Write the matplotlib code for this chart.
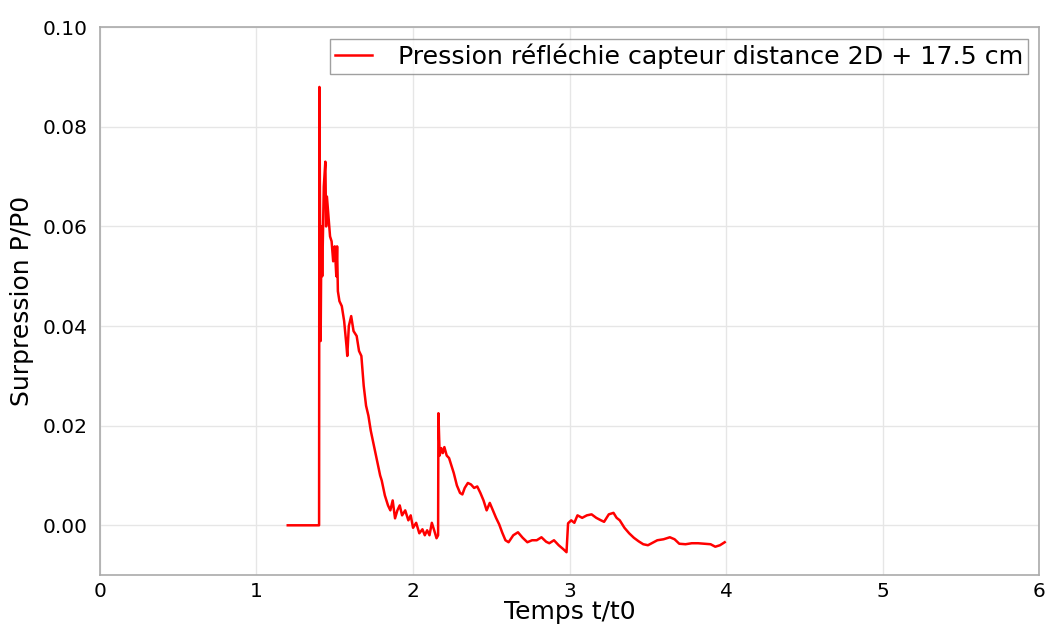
import matplotlib
matplotlib.use("Agg")
import matplotlib.pyplot as plt

# temps adimensionne t/t0
temps = [1.20, 1.40, 1.402, 1.41, 1.415, 1.42, 1.43, 1.44, 1.445, 1.45, 1.46, 1.47, 1.48,
         1.49, 1.50, 1.51, 1.515, 1.52, 1.53, 1.545, 1.56, 1.575, 1.58, 1.59, 1.605, 1.62,
         1.64, 1.655, 1.67, 1.685, 1.70, 1.715, 1.73, 1.75, 1.77, 1.79, 1.80, 1.82, 1.84,
         1.855, 1.87, 1.885, 1.90, 1.915, 1.93, 1.95, 1.97, 1.985, 2.00, 2.02, 2.04, 2.06,
         2.075, 2.09, 2.105, 2.12, 2.135, 2.15, 2.16, 2.162, 2.17, 2.18, 2.19, 2.20, 2.215,
         2.23, 2.245, 2.26, 2.28, 2.30, 2.315, 2.33, 2.35, 2.37, 2.39, 2.41, 2.43, 2.45,
         2.47, 2.49, 2.51, 2.53, 2.55, 2.57, 2.59, 2.61, 2.64, 2.67, 2.70, 2.73, 2.76,
         2.79, 2.82, 2.85, 2.87, 2.90, 2.93, 2.96, 2.98, 2.99, 3.01, 3.03, 3.05, 3.08,
         3.11, 3.14, 3.17, 3.20, 3.22, 3.25, 3.28, 3.30, 3.32, 3.35, 3.38, 3.41, 3.44,
         3.47, 3.50, 3.53, 3.56, 3.60, 3.64, 3.67, 3.70, 3.74, 3.78, 3.82, 3.86, 3.90,
         3.93, 3.96, 3.99]

# surpression P/P0
surpression = [0.0, 0.0, 0.088, 0.037, 0.060, 0.050, 0.068, 0.073, 0.060, 0.066, 0.062, 0.058,
               0.057, 0.053, 0.056, 0.050, 0.056, 0.047, 0.045, 0.044, 0.041, 0.036, 0.034,
               0.040, 0.042, 0.039, 0.038, 0.035, 0.034, 0.028, 0.024, 0.022, 0.019, 0.016,
               0.013, 0.010, 0.009, 0.006, 0.004, 0.003, 0.005, 0.0014, 0.003, 0.004, 0.002,
               0.003, 0.001, 0.002, -0.0005, 0.0005, -0.0016, -0.0008, -0.002, -0.001, -0.002,
               0.0005, -0.001, -0.0026, -0.002, 0.0225, 0.014, 0.0155, 0.0145, 0.0157, 0.014,
               0.0135, 0.012, 0.0105, 0.008, 0.0065, 0.0062, 0.0075, 0.0085, 0.0082, 0.0075,
               0.0078, 0.0065, 0.005, 0.003, 0.0045, 0.003, 0.0015, 0.0002, -0.0015, -0.003,
               -0.0034, -0.002, -0.0014, -0.0025, -0.0034, -0.003, -0.003, -0.0024, -0.0033,
               -0.0036, -0.003, -0.004, -0.0048, -0.0054, 0.0004, 0.001, 0.0005, 0.002, 0.0015,
               0.002, 0.0022, 0.0015, 0.001, 0.0007, 0.0022, 0.0025, 0.0015, 0.001, -0.0005,
               -0.0016, -0.0025, -0.0032, -0.0038, -0.004, -0.0035, -0.003, -0.0028, -0.0024,
               -0.0028, -0.0037, -0.0038, -0.0036, -0.0036, -0.0037, -0.0038, -0.0043, -0.004,
               -0.0034]

yticks = [0.00, 0.02, 0.04, 0.06, 0.08, 0.10]
ytick_labels = ['0.00', '0.02', '0.04', '0.06', '0.08', '0.10']

fig = plt.figure(figsize=(10.51, 6.32), dpi=100)
ax = fig.add_axes([0.095, 0.09, 0.894, 0.867])

ax.plot(temps, surpression, color='red', linewidth=1.8,
        label='Pression réfléchie capteur distance 2D + 17.5 cm')

ax.set_xlim(0, 6)
ax.set_ylim(-0.01, 0.10)
ax.set_yticks(yticks)
ax.set_yticklabels(ytick_labels)
ax.tick_params(labelsize=14.5, length=0)
ax.tick_params(axis='y', pad=9)
ax.tick_params(axis='x', pad=5)
ax.grid(True, color='#e6e6e6', linewidth=1)
ax.set_axisbelow(True)
for s in ax.spines.values():
    s.set_color('#aaaaaa')
    s.set_linewidth(1.2)

ax.set_xlabel('Temps t/t0', fontsize=18, labelpad=-1)
ax.set_ylabel('Surpression P/P0', fontsize=18, labelpad=6)

leg = ax.legend(loc='upper right', fontsize=18.2, fancybox=False, handlelength=1.5,
                handletextpad=1.0, borderaxespad=0.45, borderpad=0.2)
leg.get_frame().set_edgecolor('#888888')

plt.savefig('out.png', dpi=100)
